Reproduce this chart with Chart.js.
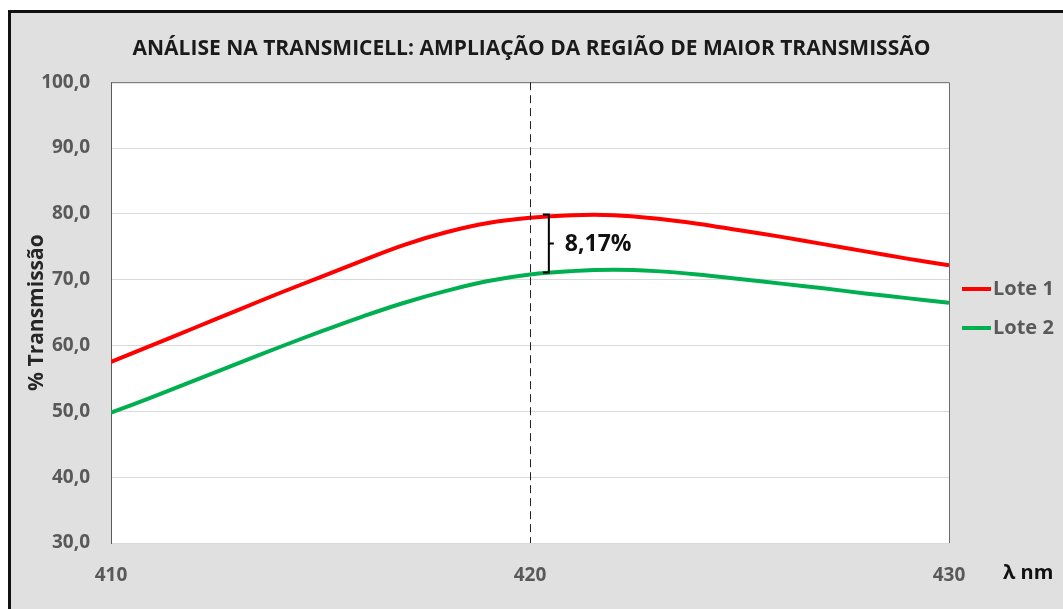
<!DOCTYPE html>
<html>
<head>
<meta charset="utf-8">
<script src="https://cdn.jsdelivr.net/npm/chart.js@4.4.0/dist/chart.umd.min.js"></script>
<style>
  html, body { margin: 0; padding: 0; background: #fff; }
</style>
</head>
<body>
<canvas id="myChart" width="1063" height="609"></canvas>
<script>
const wavelengths = [410, 411, 412, 413, 414, 415, 416, 417, 418, 419, 420, 421, 422, 423, 424, 425, 426, 427, 428, 429, 430];
const lote1 = [57.5, 60.1, 62.7, 65.3, 67.9, 70.4, 72.9, 75.3, 77.2, 78.6, 79.4, 79.8, 79.8, 79.3, 78.5, 77.5, 76.5, 75.4, 74.3, 73.2, 72.2];
const lote2 = [49.8, 52.2, 54.7, 57.2, 59.7, 62.1, 64.4, 66.5, 68.3, 69.8, 70.8, 71.3, 71.5, 71.3, 70.8, 70.1, 69.4, 68.7, 67.9, 67.2, 66.5];
const seriesNames = ['Lote 1', 'Lote 2'];
const xTicks = [410, 420, 430];
const markerNm = 420;
const gapNm = 420.45;
const gapTop = 79.9;
const gapBottom = 71.1;
const gapLabel = '8,17%';

const FONT = '"Open Sans", Lato, sans-serif';

const decor = {
  id: 'decor',
  beforeDraw(chart) {
    const { ctx, chartArea: a } = chart;
    ctx.save();
    ctx.fillStyle = '#ffffff';
    ctx.fillRect(0, 0, chart.width, chart.height);
    ctx.fillStyle = '#e0e0e0';
    ctx.fillRect(8, 10, chart.width, chart.height);
    ctx.fillStyle = '#111111';
    ctx.fillRect(8, 10, 3, chart.height);
    ctx.fillRect(8, 10, chart.width, 3);
    ctx.fillStyle = '#ffffff';
    ctx.fillRect(a.left, a.top, a.right - a.left, a.bottom - a.top);
    ctx.restore();
  },
  afterDatasetsDraw(chart) {
    const { ctx, chartArea: a, scales: { x, y } } = chart;
    ctx.save();
    // plot frame top/right
    ctx.strokeStyle = '#6b6b6b';
    ctx.lineWidth = 1;
    ctx.beginPath();
    ctx.moveTo(a.left, a.top + 0.5);
    ctx.lineTo(a.right + 0.5, a.top + 0.5);
    ctx.lineTo(a.right + 0.5, a.bottom);
    ctx.stroke();

    // dashed marker
    const mx = Math.round(x.getPixelForValue(markerNm)) + 0.5;
    ctx.strokeStyle = '#222222';
    ctx.setLineDash([8, 5]);
    ctx.beginPath();
    ctx.moveTo(mx, a.top);
    ctx.lineTo(mx, a.bottom);
    ctx.stroke();
    ctx.setLineDash([]);

    // bracket
    const bx = x.getPixelForValue(gapNm);
    const t = y.getPixelForValue(gapTop);
    const b = y.getPixelForValue(gapBottom);
    const m = (t + b) / 2;
    ctx.strokeStyle = '#000000';
    ctx.lineWidth = 2;
    ctx.beginPath();
    ctx.moveTo(bx - 6, t);
    ctx.lineTo(bx, t);
    ctx.lineTo(bx, b);
    ctx.lineTo(bx - 6, b);
    ctx.moveTo(bx, m);
    ctx.lineTo(bx + 5, m);
    ctx.stroke();
    ctx.fillStyle = '#111111';
    ctx.font = 'bold 23px ' + FONT;
    ctx.textAlign = 'left';
    ctx.textBaseline = 'middle';
    ctx.fillText(gapLabel, bx + 16, m + 1);
    ctx.restore();
  },
  afterDraw(chart) {
    const { ctx } = chart;
    ctx.save();
    ctx.textBaseline = 'middle';
    ctx.textAlign = 'left';
    ctx.font = 'bold 20px ' + FONT;
    chart.data.datasets.forEach((ds, i) => {
      const yy = 289 + i * 39;
      ctx.strokeStyle = ds.borderColor;
      ctx.lineWidth = 4;
      ctx.beginPath();
      ctx.moveTo(962, yy);
      ctx.lineTo(991, yy);
      ctx.stroke();
      ctx.fillStyle = '#595959';
      ctx.fillText(ds.label, 993, yy);
    });
    ctx.fillStyle = '#111111';
    ctx.fillText('λ nm', 1003, 573);
    ctx.restore();
  }
};

const config = {
  type: 'line',
  data: {
    datasets: [
      {
        label: seriesNames[0],
        data: wavelengths.map((w, i) => ({ x: w, y: lote1[i] })),
        borderColor: '#ff0000',
        borderWidth: 4,
      },
      {
        label: seriesNames[1],
        data: wavelengths.map((w, i) => ({ x: w, y: lote2[i] })),
        borderColor: '#00b050',
        borderWidth: 4,
      },
    ],
  },
  options: {
    responsive: false,
    animation: false,
    events: [],
    layout: { padding: 0 },
    elements: {
      point: { radius: 0 },
      line: { tension: 0.4 },
    },
    scales: {
      x: {
        type: 'linear',
        min: 410,
        max: 430,
        afterBuildTicks: (s) => { s.ticks = xTicks.map((v) => ({ value: v })); },
        afterFit: (s) => { s.height = 66; },
        grid: { display: false, drawTicks: false },
        border: { color: '#d9d9d9' },
        ticks: {
          color: '#595959',
          font: { family: FONT, size: 19, weight: 'bold' },
          padding: 21,
          maxRotation: 0,
          autoSkip: false,
        },
      },
      y: {
        min: 30,
        max: 100,
        afterFit: (s) => { s.width = 111; },
        grid: { color: '#d9d9d9', drawTicks: false },
        border: { color: '#595959' },
        ticks: {
          stepSize: 10,
          color: '#595959',
          font: { family: FONT, size: 19, weight: 'bold' },
          padding: 21,
          callback: (v) => v.toFixed(1).replace('.', ','),
        },
        title: {
          display: true,
          text: '% Transmissão',
          color: '#262626',
          font: { family: FONT, size: 21, weight: 'bold' },
          padding: { top: 24, bottom: 0 },
        },
      },
      yRight: {
        position: 'right',
        display: true,
        min: 30,
        max: 100,
        afterFit: (s) => { s.width = 114; },
        grid: { display: false, drawTicks: false },
        border: { display: false },
        ticks: { display: false },
      },
    },
    plugins: {
      legend: { display: false },
      tooltip: { enabled: false },
      title: {
        display: true,
        text: 'ANÁLISE NA TRANSMICELL: AMPLIAÇÃO DA REGIÃO DE MAIOR TRANSMISSÃO',
        color: '#1a1a1a',
        font: { family: FONT, size: 21, weight: 'bold' },
        padding: { top: 36, bottom: 21 },
      },
    },
  },
  plugins: [decor],
};

const myChart = new Chart(document.getElementById('myChart'), config);
</script>
</body>
</html>
